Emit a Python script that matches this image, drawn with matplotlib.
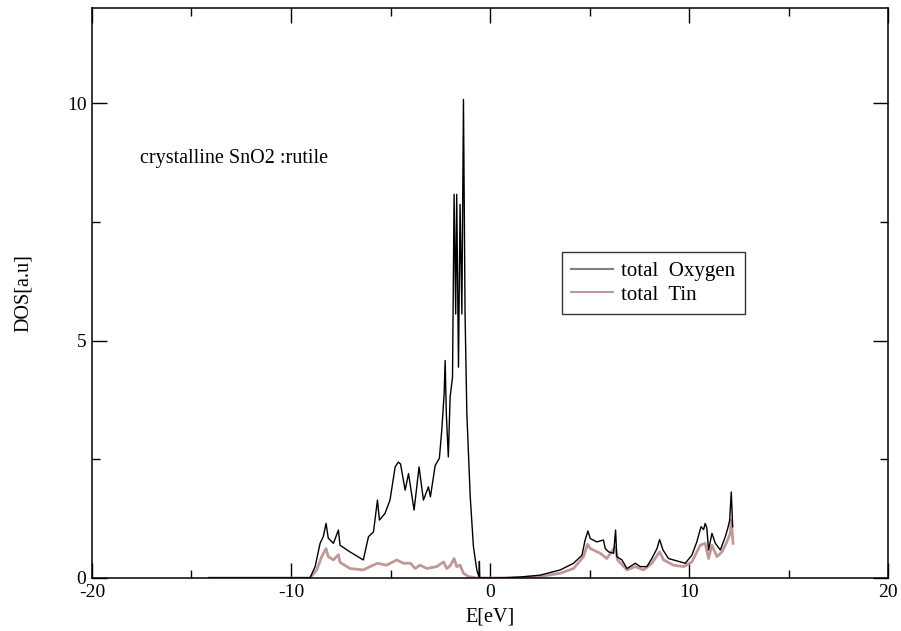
import numpy as np
import matplotlib.pyplot as plt
from matplotlib.lines import Line2D
from matplotlib.ticker import MultipleLocator

plt.rcParams['font.family'] = ['Liberation Serif', 'DejaVu Serif']
plt.rcParams['axes.unicode_minus'] = False

# total DOS of oxygen (E in eV, DOS in a.u.)
oxy_e = [-14.1, -9.05, -8.79, -8.54, -8.38, -8.24, -8.13, -7.87, -7.62, -7.54,
         -7.04, -6.37, -6.11, -5.86, -5.66, -5.56, -5.28, -5.03, -4.77, -4.61,
         -4.5, -4.27, -4.10, -3.82, -3.57, -3.35, -3.10, -3.0, -2.76, -2.55,
         -2.43, -2.31, -2.26, -2.2, -2.10, -2.01, -1.89, -1.81, -1.73, -1.68,
         -1.59, -1.51, -1.42, -1.34, -1.26, -1.17, -1.0, -0.84, -0.67, -0.56,
         -0.54, -0.52, -0.3, 0.5, 1.5, 2.51, 3.52, 4.19, 4.61, 4.77,
         4.91, 5.03, 5.36, 5.69, 5.78, 5.95, 6.20, 6.30, 6.36, 6.62,
         6.87, 7.29, 7.54, 7.87, 8.12, 8.38, 8.51, 8.68, 8.96, 9.21,
         9.55, 9.8, 10.13, 10.38, 10.59, 10.72, 10.80, 10.88, 10.97, 11.14,
         11.31, 11.56, 11.81, 11.93, 12.03, 12.11, 12.18]
oxy_dos = [0.0, 0.0, 0.24, 0.73, 0.87, 1.15, 0.84, 0.73, 1.01, 0.69,
           0.55, 0.38, 0.87, 0.97, 1.64, 1.22, 1.36, 1.64, 2.34, 2.44,
           2.40, 1.85, 2.2, 1.43, 2.34, 1.64, 1.92, 1.71, 2.37, 2.52,
           3.11, 3.88, 4.58, 3.46, 2.55, 3.81, 4.23, 8.08, 5.56, 8.08,
           4.44, 7.87, 5.56, 10.08, 5.56, 3.46, 1.71, 0.66, 0.17, 0.02,
           0.35, 0.0, 0.0, 0.0, 0.02, 0.06, 0.17, 0.31, 0.48, 0.80,
           0.99, 0.83, 0.76, 0.80, 0.62, 0.55, 0.52, 1.01, 0.45, 0.38,
           0.20, 0.31, 0.24, 0.24, 0.41, 0.62, 0.81, 0.59, 0.41, 0.38,
           0.34, 0.31, 0.48, 0.76, 1.08, 1.02, 1.15, 1.06, 0.59, 0.94,
           0.73, 0.59, 0.87, 1.04, 1.22, 1.81, 1.08]

# total DOS of tin
tin_e = [-14.1, -9.05, -8.71, -8.46, -8.24, -8.13, -7.87, -7.62, -7.54, -7.04,
         -6.37, -6.03, -5.66, -5.2, -4.69, -4.35, -4.0, -3.77, -3.52, -3.18,
         -2.68, -2.34, -2.18, -2.0, -1.81, -1.68, -1.51, -1.34, -1.09, -0.67,
         0.5, 1.5, 2.51, 3.52, 4.19, 4.69, 4.89, 5.03, 5.53, 5.86,
         6.28, 6.4, 6.87, 7.29, 7.7, 8.12, 8.51, 8.71, 9.21, 9.72,
         10.13, 10.55, 10.8, 10.97, 11.14, 11.39, 11.64, 11.89, 12.06, 12.11,
         12.2]
tin_dos = [0.0, 0.0, 0.17, 0.45, 0.62, 0.45, 0.38, 0.49, 0.33, 0.20,
           0.17, 0.24, 0.31, 0.27, 0.38, 0.31, 0.31, 0.20, 0.27, 0.20,
           0.24, 0.34, 0.20, 0.26, 0.41, 0.24, 0.27, 0.10, 0.03, 0.0,
           0.0, 0.01, 0.03, 0.10, 0.20, 0.45, 0.71, 0.62, 0.52, 0.41,
           0.66, 0.38, 0.17, 0.24, 0.17, 0.31, 0.55, 0.38, 0.27, 0.24,
           0.34, 0.69, 0.73, 0.41, 0.69, 0.45, 0.55, 0.76, 0.94, 1.22,
           0.73]

fig = plt.figure(figsize=(9.01, 6.31), dpi=100)
ax = fig.add_axes([0.102, 0.084, 0.884, 0.903])

ax.plot(tin_e, tin_dos, color='#c09898', linewidth=2.0)
ax.plot(oxy_e, oxy_dos, color='black', linewidth=1.0)

ax.set_xlim(-20, 20)
ax.set_ylim(0, 12)
ax.xaxis.set_major_locator(MultipleLocator(10))
ax.xaxis.set_minor_locator(MultipleLocator(5))
ax.yaxis.set_major_locator(MultipleLocator(5))
ax.yaxis.set_minor_locator(MultipleLocator(2.5))
ax.tick_params(which='both', direction='in', top=True, right=True, labelsize=14)
ax.tick_params(which='major', length=11, width=1, pad=4)
ax.tick_params(which='minor', length=6, width=1)
for s in ax.spines.values():
    s.set_linewidth(1.1)

ax.set_xlabel('E[eV]', fontsize=14.5, labelpad=5)
ax.set_ylabel('DOS[a.u]', fontsize=14.5, labelpad=24)

ax.text(-17.6, 8.75, 'crystalline SnO2 :rutile', fontsize=14.5)

handles = [Line2D([], [], color='#808080', linewidth=1.5),
           Line2D([], [], color='#c09898', linewidth=1.5)]
leg = ax.legend(handles, ['total  Oxygen', 'total  Tin'], loc='upper left',
                bbox_to_anchor=(0.590, 0.572), fontsize=15, frameon=True,
                fancybox=False, edgecolor='black', handlelength=2.0,
                handletextpad=0.4, borderpad=0.45, labelspacing=0.2,
                borderaxespad=0)
leg.get_frame().set_linewidth(1.0)

fig.savefig('out.png', dpi=100)
